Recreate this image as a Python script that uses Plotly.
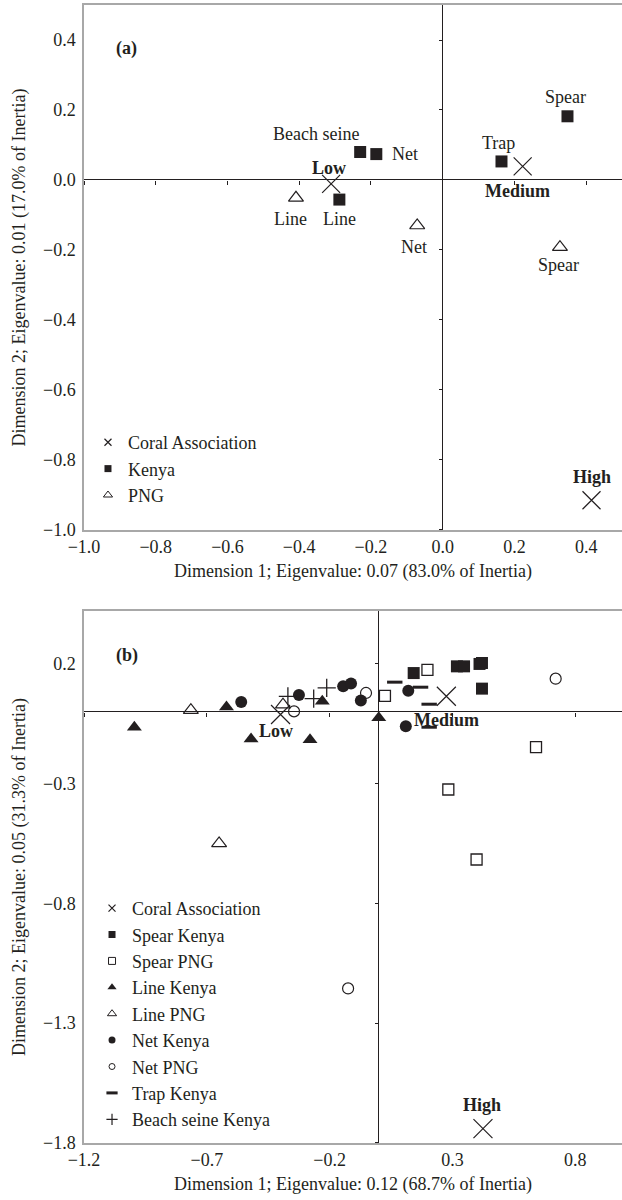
import plotly.graph_objects as go

# ---------------- data: panel (a) ----------------
a_coral_x = [-0.311, 0.223, 0.415]
a_coral_y = [-0.011, 0.039, -0.915]
a_coral_lab = ["Low", "Medium", "High"]

a_kenya_x = [0.348, 0.164, -0.230, -0.185, -0.288]
a_kenya_y = [0.182, 0.053, 0.080, 0.074, -0.056]
a_kenya_lab = ["Spear", "Trap", "Beach seine", "Net", "Line"]

a_png_x = [0.327, -0.071, -0.409]
a_png_y = [-0.192, -0.130, -0.051]
a_png_lab = ["Spear", "Net", "Line"]

# ---------------- data: panel (b) ----------------
b_coral_x = [-0.40, 0.275, 0.424]
b_coral_y = [-0.012, 0.064, -1.74]
b_coral_lab = ["Low", "Medium", "High"]

b_spear_kenya_x = [0.142, 0.318, 0.347, 0.410, 0.420, 0.420]
b_spear_kenya_y = [0.161, 0.189, 0.189, 0.199, 0.203, 0.096]
b_spear_png_x = [0.025, 0.198, 0.640, 0.283, 0.398]
b_spear_png_y = [0.066, 0.174, -0.148, -0.325, -0.617]
b_line_kenya_x = [-0.995, -0.620, -0.520, -0.280, -0.230, 0.000]
b_line_kenya_y = [-0.065, 0.019, -0.114, -0.117, 0.043, -0.026]
b_line_png_x = [-0.765, -0.390, -0.650]
b_line_png_y = [0.006, 0.029, -0.550]
b_net_kenya_x = [-0.560, -0.325, -0.145, -0.113, -0.073, 0.120, 0.110]
b_net_kenya_y = [0.040, 0.069, 0.106, 0.117, 0.046, 0.0875, -0.061]
b_net_png_x = [-0.345, -0.052, 0.720, -0.125]
b_net_png_y = [0.001, 0.078, 0.1375, -1.155]
b_trap_kenya_x = [0.065, 0.170, 0.205, 0.205]
b_trap_kenya_y = [0.123, 0.102, 0.031, -0.065]
b_beach_kenya_x = [-0.370, -0.265, -0.212]
b_beach_kenya_y = [0.064, 0.054, 0.099]

# axis settings
a_xrange, a_yrange = [-1.0, 0.5], [-1.0, 0.5]
b_xrange, b_yrange = [-1.2, 0.99], [-1.8, 0.42]
a_ticks = [-1.0, -0.8, -0.6, -0.4, -0.2, 0.0, 0.2, 0.4]
b_xticks = [-1.2, -0.7, -0.2, 0.3, 0.8]
b_yticks = [-1.8, -1.3, -0.8, -0.3, 0.2]

FONT = "Liberation Serif, Times New Roman, serif"
INK = "#231f20"
FRAME = "#a8a8a8"
A_DOM = [0.5387, 1.0]
B_DOM = [0.0, 0.4675]

fig = go.Figure()


def pts(x, y, xa, ya, symbol, size, lw=0):
    fig.add_trace(go.Scatter(
        x=x, y=y, xaxis=xa, yaxis=ya, mode="markers", showlegend=False,
        hoverinfo="skip",
        marker=dict(symbol=symbol, size=size, color=INK,
                    line=dict(color=INK, width=lw))))


def leg(name, legend, symbol, size, lw=0):
    fig.add_trace(go.Scatter(
        x=[None], y=[None], mode="markers", name=name, legend=legend,
        xaxis="x" if legend == "legend" else "x2",
        yaxis="y" if legend == "legend" else "y2",
        marker=dict(symbol=symbol, size=size, color=INK,
                    line=dict(color=INK, width=lw))))


# panel (a) marks
pts(a_coral_x, a_coral_y, "x", "y", "x-thin-open", 18, 1.2)
pts(a_kenya_x, a_kenya_y, "x", "y", "square", 12)
pts(a_png_x, a_png_y, "x", "y", "triangle-up-open", 13, 1.2)
leg("Coral Association", "legend", "x-thin-open", 7, 1.2)
leg("Kenya", "legend", "square", 7)
leg("PNG", "legend", "triangle-up-open", 8, 1)

# panel (b) marks
pts(b_coral_x, b_coral_y, "x2", "y2", "x-thin-open", 19, 1.2)
pts(b_spear_kenya_x, b_spear_kenya_y, "x2", "y2", "square", 12)
pts(b_spear_png_x, b_spear_png_y, "x2", "y2", "square-open", 11, 1.3)
pts(b_line_kenya_x, b_line_kenya_y, "x2", "y2", "triangle-up", 13)
pts(b_line_png_x, b_line_png_y, "x2", "y2", "triangle-up-open", 13, 1.2)
pts(b_net_kenya_x, b_net_kenya_y, "x2", "y2", "circle", 12)
pts(b_net_png_x, b_net_png_y, "x2", "y2", "circle-open", 11, 1.2)
pts(b_trap_kenya_x, b_trap_kenya_y, "x2", "y2", "line-ew", 11, 3)
pts(b_beach_kenya_x, b_beach_kenya_y, "x2", "y2", "cross-thin-open", 13, 1.3)
leg("Coral Association", "legend2", "x-thin-open", 7, 1.2)
leg("Spear Kenya", "legend2", "square", 7)
leg("Spear PNG", "legend2", "square-open", 7, 1)
leg("Line Kenya", "legend2", "triangle-up", 8)
leg("Line PNG", "legend2", "triangle-up-open", 8, 1)
leg("Net Kenya", "legend2", "circle", 7)
leg("Net PNG", "legend2", "circle-open", 6, 1)
leg("Trap Kenya", "legend2", "line-ew", 8, 3)
leg("Beach seine Kenya", "legend2", "cross-thin-open", 8, 1.2)

# dummy traces so the zero-line tick axes exist
for xa, ya in [("x3", "y"), ("x", "y3"), ("x4", "y2"), ("x2", "y4")]:
    fig.add_trace(go.Scatter(x=[None], y=[None], xaxis=xa, yaxis=ya,
                             mode="markers", showlegend=False, hoverinfo="skip"))

# point labels
annots = []
a_coral_off = [(-2, 16), (-5, -25), (0, 23)]
a_kenya_off = [(-2, 19), (-3, 18), (-44, 18), (29, 0), (0, -19)]
a_png_off = [(-1, -18), (-3, -22), (-5, -21)]
b_coral_off = [(-5, -16), (0, -24), (-1, 24)]


def labels(xs, ys, labs, offs, xref, yref, bold=False):
    for x, y, t, (dx, dy) in zip(xs, ys, labs, offs):
        annots.append(dict(x=x, y=y, xref=xref, yref=yref,
                           text=f"<b>{t}</b>" if bold else t,
                           showarrow=False, xshift=dx, yshift=dy,
                           font=dict(family=FONT, size=18, color=INK)))


labels(a_coral_x, a_coral_y, a_coral_lab, a_coral_off, "x", "y", True)
labels(a_kenya_x, a_kenya_y, a_kenya_lab, a_kenya_off, "x", "y")
labels(a_png_x, a_png_y, a_png_lab, a_png_off, "x", "y")
labels(b_coral_x, b_coral_y, b_coral_lab, b_coral_off, "x2", "y2", True)

annots.append(dict(x=0.056, y=0.94, xref="x domain", yref="y domain",
                   text="<b>(a)</b>", showarrow=False,
                   font=dict(family=FONT, size=18, color=INK)))
annots.append(dict(x=0.056, y=0.94, xref="x2 domain", yref="y2 domain",
                   text="<b>(b)</b>", showarrow=False,
                   font=dict(family=FONT, size=18, color=INK)))

tickfont = dict(family=FONT, size=18, color=INK)
titlefont = dict(family=FONT, size=18, color=INK)


def main_x(rng, ticks, title, anchor, fmt):
    return dict(range=rng, tickvals=ticks, tickformat=fmt, anchor=anchor,
                showline=True, linecolor=FRAME, linewidth=1.5, mirror=True,
                zeroline=True, zerolinecolor=INK, zerolinewidth=1.3,
                showgrid=False, ticks="", tickfont=tickfont,
                title=dict(text=title, font=titlefont, standoff=8))


def main_y(rng, ticks, title, anchor, dom, fmt):
    return dict(range=rng, tickvals=ticks, tickformat=fmt, anchor=anchor,
                domain=dom, showline=True, linecolor=FRAME, linewidth=1.5,
                mirror=False, zeroline=True, zerolinecolor=INK,
                zerolinewidth=1.3, showgrid=False, ticks="", tickfont=tickfont,
                ticklabelstandoff=3,
                title=dict(text=title, font=titlefont, standoff=13))


def tick_x(over, rng, ticks, pos):
    return dict(overlaying=over, anchor="free", position=pos, range=rng,
                tickvals=ticks, ticks="outside", ticklen=4, tickwidth=1,
                tickcolor=INK, showticklabels=False, showline=False,
                showgrid=False, zeroline=False)


def tick_y(over, rng, ticks, pos):
    return dict(overlaying=over, anchor="free", position=pos, range=rng,
                tickvals=ticks, ticks="outside", ticklen=4, tickwidth=1,
                tickcolor=INK, showticklabels=False, showline=False,
                showgrid=False, zeroline=False, side="left")


def frac(rng, dom):
    return dom[0] + (0 - rng[0]) / (rng[1] - rng[0]) * (dom[1] - dom[0])


fig.update_layout(
    width=622, height=1200,
    margin=dict(l=84, r=0, t=5, b=57),
    paper_bgcolor="white", plot_bgcolor="white",
    font=dict(family=FONT, size=18, color=INK),
    xaxis=main_x(a_xrange, a_ticks, "Dimension 1; Eigenvalue: 0.07 (83.0% of Inertia)", "y", ".1f"),
    yaxis=main_y(a_yrange, a_ticks, "Dimension 2; Eigenvalue: 0.01 (17.0% of Inertia)", "x", A_DOM, ".1f"),
    xaxis2=main_x(b_xrange, b_xticks, "Dimension 1; Eigenvalue: 0.12 (68.7% of Inertia)", "y2", ".1f"),
    yaxis2=main_y(b_yrange, b_yticks, "Dimension 2; Eigenvalue: 0.05 (31.3% of Inertia)", "x2", B_DOM, ".1f"),
    xaxis3=tick_x("x", a_xrange, a_ticks, frac(a_yrange, A_DOM)),
    yaxis3=tick_y("y", a_yrange, a_ticks, frac(a_xrange, [0, 1])),
    xaxis4=tick_x("x2", b_xrange, b_xticks, frac(b_yrange, B_DOM)),
    yaxis4=tick_y("y2", b_yrange, b_yticks, frac(b_xrange, [0, 1])),
    legend=dict(x=0.0074, y=0.6318, xanchor="left", yanchor="top",
                bgcolor="rgba(0,0,0,0)", font=dict(family=FONT, size=18, color=INK)),
    legend2=dict(x=0.0149, y=0.2224, xanchor="left", yanchor="top",
                 bgcolor="rgba(0,0,0,0)", font=dict(family=FONT, size=18, color=INK)),
    annotations=annots,
    showlegend=True,
)

fig.write_html(
    "out.html",
    config={"displayModeBar": False},
    post_script="document.body.style.margin='0';document.body.style.padding='0';",
)
